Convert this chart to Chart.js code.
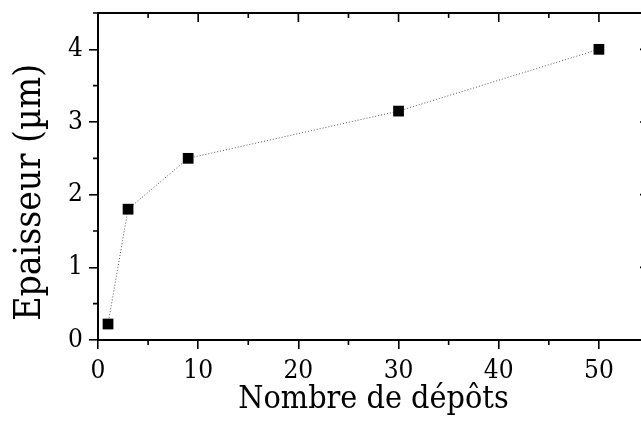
<!DOCTYPE html>
<html>
<head>
<meta charset="utf-8">
<script src="https://cdn.jsdelivr.net/npm/chart.js"></script>
<style>
    html, body { margin: 0; padding: 0; background: #fff; overflow: hidden; }
    #wrap { width: 662px; height: 425px; }
</style>
</head>
<body>
<div id="wrap"><canvas id="chart"></canvas></div>
<script>
// Values
const depots = [1, 3, 9, 30, 50];
const epaisseur = [0.22, 1.8, 2.5, 3.15, 4.0];

const xTitle = 'Nombre de dépôts';
const yTitle = 'Epaisseur (µm)   '; // trailing spaces push the label down a little
const fontFamily = '"DejaVu Serif Condensed", "DejaVu Serif", serif';

// Frame + inward ticks on top/right + minor ticks, placed with the chart scales
const framePlugin = {
    id: 'frame',
    afterDraw(chart) {
        const { ctx, chartArea: a, scales: { x, y } } = chart;
        const major = 9, minor = 5;
        ctx.save();
        ctx.strokeStyle = '#000';
        ctx.lineWidth = 1.6;
        ctx.beginPath();
        // x ticks: top (inward) majors + minors, bottom minors (outward)
        x.ticks.forEach(t => {
            const px = x.getPixelForValue(t.value);
            ctx.moveTo(px, a.top); ctx.lineTo(px, a.top + major);
            const mx = x.getPixelForValue(t.value + 5);
            ctx.moveTo(mx, a.top); ctx.lineTo(mx, a.top + minor);
            ctx.moveTo(mx, a.bottom); ctx.lineTo(mx, a.bottom + minor);
        });
        // y ticks: right (inward) majors + minors, left minors (outward)
        y.ticks.forEach(t => {
            const py = y.getPixelForValue(t.value);
            ctx.moveTo(a.right, py); ctx.lineTo(a.right - major, py);
            const my = y.getPixelForValue(t.value + 0.5);
            ctx.moveTo(a.right, my); ctx.lineTo(a.right - minor, my);
            ctx.moveTo(a.left, my); ctx.lineTo(a.left - minor, my);
        });
        ctx.stroke();
        ctx.lineWidth = 2;
        ctx.strokeRect(a.left, a.top, a.right - a.left, a.bottom - a.top);
        ctx.restore();
    }
};

new Chart(document.getElementById('chart'), {
    type: 'scatter',
    data: {
        datasets: [{
            data: depots.map((d, i) => ({ x: d, y: epaisseur[i] })),
            showLine: true,
            borderColor: '#555',
            borderWidth: 1,
            borderDash: [1, 2],
            pointStyle: 'rect',
            pointRadius: 7.6,
            pointHoverRadius: 7.6,
            pointBackgroundColor: '#000',
            pointBorderColor: '#000',
            pointBorderWidth: 0
        }]
    },
    options: {
        responsive: true,
        maintainAspectRatio: false,
        animation: false,
        layout: { padding: { top: 13, right: 13, left: 0, bottom: 0 } },
        plugins: {
            legend: { display: false },
            tooltip: { enabled: false }
        },
        scales: {
            x: {
                type: 'linear',
                min: 0,
                max: 55,
                afterFit: s => { s.height = 85; s.paddingLeft = 0; s.paddingRight = 0; },
                ticks: {
                    stepSize: 10,
                    includeBounds: false,
                    color: '#000',
                    padding: 7,
                    maxRotation: 0,
                    font: { family: fontFamily, size: 26 }
                },
                grid: { drawOnChartArea: false, tickLength: 9, color: '#000', lineWidth: 1.6 },
                border: { display: true, color: '#000', width: 2 },
                title: {
                    display: true,
                    text: xTitle,
                    color: '#000',
                    padding: { top: 0, bottom: 6 },
                    font: { family: fontFamily, size: 32 }
                }
            },
            y: {
                min: 0,
                max: 4.5,
                afterFit: s => { s.width = 98; s.paddingTop = 0; s.paddingBottom = 0; },
                ticks: {
                    stepSize: 1,
                    includeBounds: false,
                    color: '#000',
                    padding: 6,
                    font: { family: fontFamily, size: 26 }
                },
                grid: { drawOnChartArea: false, tickLength: 9, color: '#000', lineWidth: 1.6 },
                border: { display: true, color: '#000', width: 2 },
                title: {
                    display: true,
                    text: yTitle,
                    color: '#000',
                    padding: { top: 8, bottom: 0 },
                    font: { family: fontFamily, size: 37 }
                }
            }
        }
    },
    plugins: [framePlugin]
});
</script>
</body>
</html>
